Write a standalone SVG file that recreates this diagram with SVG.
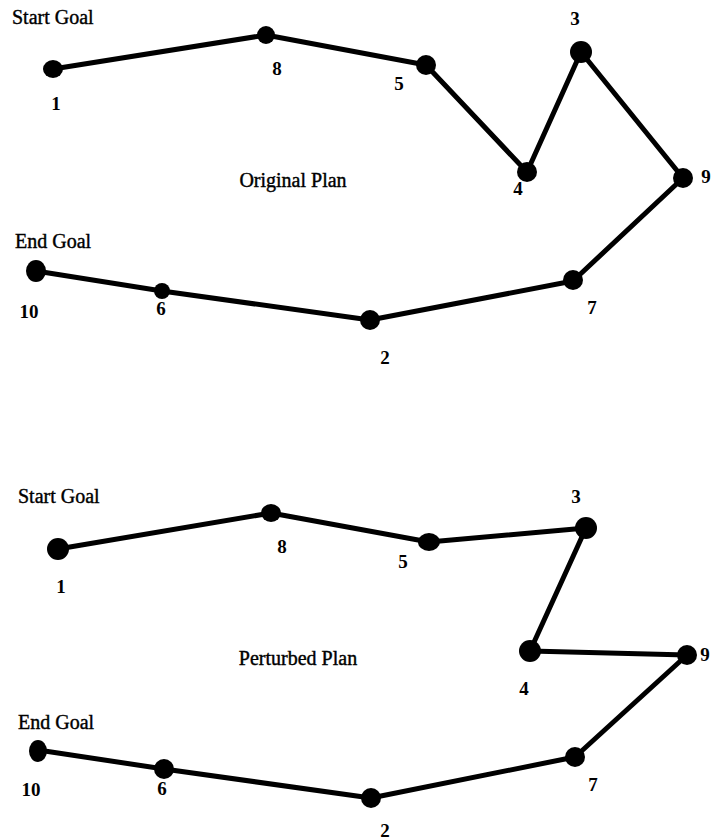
<svg xmlns="http://www.w3.org/2000/svg" width="713" height="840" viewBox="0 0 713 840">
  <style>
    .edge { fill: none; stroke: #000; stroke-width: 5; stroke-linejoin: round; stroke-linecap: round; }
    .dot { fill: #000; }
    .num { font-family: "Liberation Serif", "Times New Roman", serif; font-size: 19px; font-weight: bold; fill: #000; text-anchor: middle; }
    .cap { font-family: "Liberation Serif", "Times New Roman", serif; font-size: 20px; fill: #000; stroke: #000; stroke-width: 0.4; }
    .title { font-family: "Liberation Serif", "Times New Roman", serif; font-size: 20px; fill: #000; stroke: #000; stroke-width: 0.4; text-anchor: middle; }
  </style>
  <rect width="713" height="840" fill="#fff"/>

  <!-- Original plan -->
  <g id="original-plan">
    <g id="connectors-original">
      <polyline class="edge" points="53,69 266,35 426,65 527,172 581,52 683,178 573,281 370,320 162,291 36,271"/>
    </g>
    <text class="cap" x="12" y="24">Start Goal</text>
    <text class="title" x="293" y="187">Original Plan</text>
    <text class="cap" x="15" y="248">End Goal</text>
    <g id="o1"><ellipse class="dot" cx="53" cy="69" rx="10" ry="9"/><text class="num" x="56" y="110">1</text></g>
    <g id="o8"><circle class="dot" cx="266" cy="35" r="9"/><text class="num" x="277" y="75">8</text></g>
    <g id="o5"><circle class="dot" cx="426" cy="65" r="10"/><text class="num" x="399" y="90">5</text></g>
    <g id="o4"><circle class="dot" cx="527" cy="172" r="10"/><text class="num" x="518" y="195">4</text></g>
    <g id="o3"><circle class="dot" cx="581" cy="52" r="11"/><text class="num" x="575" y="25">3</text></g>
    <g id="o9"><circle class="dot" cx="683" cy="178" r="10"/><text class="num" x="706" y="183">9</text></g>
    <g id="o7"><circle class="dot" cx="573" cy="280" r="10"/><text class="num" x="592" y="314">7</text></g>
    <g id="o2"><circle class="dot" cx="370" cy="320" r="10"/><text class="num" x="385" y="364">2</text></g>
    <g id="o6"><circle class="dot" cx="162" cy="291" r="8"/><text class="num" x="161" y="315">6</text></g>
    <g id="o10"><ellipse class="dot" cx="36" cy="271" rx="10" ry="11"/><text class="num" x="29" y="318">10</text></g>
  </g>

  <!-- Perturbed plan -->
  <g id="perturbed-plan">
    <g id="connectors-perturbed">
      <polyline class="edge" points="58,549 271,513 429,542 586,528 530,651 687,655 575,757 371,798 164,769 38,750"/>
    </g>
    <text class="cap" x="18" y="503">Start Goal</text>
    <text class="title" x="298" y="665">Perturbed Plan</text>
    <text class="cap" x="18" y="729">End Goal</text>
    <g id="p1"><circle class="dot" cx="58" cy="549" r="11"/><text class="num" x="61" y="593">1</text></g>
    <g id="p8"><ellipse class="dot" cx="271" cy="513" rx="10" ry="9"/><text class="num" x="282" y="553">8</text></g>
    <g id="p5"><ellipse class="dot" cx="429" cy="542" rx="11" ry="9"/><text class="num" x="403" y="568">5</text></g>
    <g id="p3"><circle class="dot" cx="586" cy="528" r="11"/><text class="num" x="576" y="503">3</text></g>
    <g id="p4"><circle class="dot" cx="530" cy="651" r="11"/><text class="num" x="524" y="695">4</text></g>
    <g id="p9"><circle class="dot" cx="687" cy="655" r="10"/><text class="num" x="705" y="661">9</text></g>
    <g id="p7"><circle class="dot" cx="575" cy="757" r="10"/><text class="num" x="593" y="791">7</text></g>
    <g id="p2"><circle class="dot" cx="371" cy="798" r="10"/><text class="num" x="385" y="837">2</text></g>
    <g id="p6"><circle class="dot" cx="164" cy="769" r="10"/><text class="num" x="162" y="795">6</text></g>
    <g id="p10"><ellipse class="dot" cx="38" cy="751" rx="9" ry="11"/><text class="num" x="31" y="796">10</text></g>
  </g>
</svg>
